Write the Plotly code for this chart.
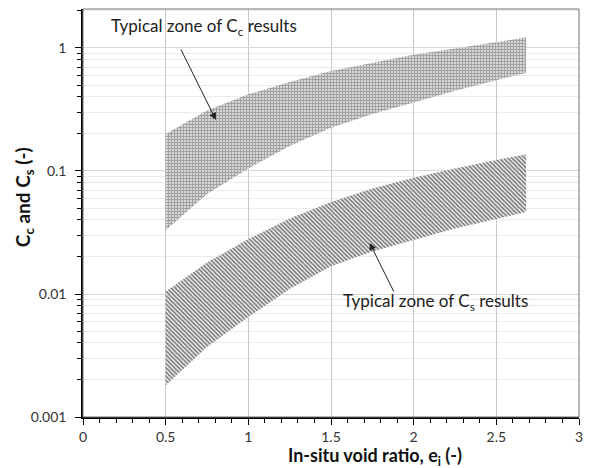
import plotly.graph_objects as go

# In-situ void ratio values where band edges were read
e_vals = [0.5, 0.75, 1.0, 1.25, 1.5, 1.75, 2.0, 2.25, 2.5, 2.68]
cc_upper = [0.20, 0.31, 0.42, 0.53, 0.65, 0.76, 0.88, 0.99, 1.11, 1.22]
cc_lower = [0.033, 0.065, 0.105, 0.16, 0.225, 0.29, 0.36, 0.45, 0.55, 0.63]
cs_upper = [0.0105, 0.018, 0.028, 0.041, 0.056, 0.072, 0.088, 0.105, 0.123, 0.137]
cs_lower = [0.0018, 0.0037, 0.0065, 0.0110, 0.0168, 0.0222, 0.0275, 0.034, 0.041, 0.0465]

x_ticks = [0, 0.5, 1, 1.5, 2, 2.5, 3]
x_tick_text = ["0", "0.5", "1", "1.5", "2", "2.5", "3"]
y_ticks = [0.001, 0.01, 0.1, 1]
y_tick_text = ["0.001", "0.01", "0.1", "1"]
y_minor = [k * d for d in [0.001, 0.01, 0.1, 1] for k in range(2, 10) if k * d <= 2.07]

FONT = "Lato, 'Open Sans', sans-serif"

fig = go.Figure()

fig.add_trace(go.Scatter(
    x=e_vals + e_vals[::-1],
    y=cc_upper + cc_lower[::-1],
    fill="toself", mode="lines", line=dict(width=0, color="rgba(0,0,0,0)"),
    fillcolor="rgba(0,0,0,0)",
    fillpattern=dict(shape="+", size=3, solidity=0.75, fgcolor="#454545", bgcolor="#ffffff"),
    hoverinfo="skip", showlegend=False,
))
fig.add_trace(go.Scatter(
    x=e_vals + e_vals[::-1],
    y=cs_upper + cs_lower[::-1],
    fill="toself", mode="lines", line=dict(width=0, color="rgba(0,0,0,0)"),
    fillcolor="rgba(0,0,0,0)",
    fillpattern=dict(shape="\\", size=3, solidity=0.6, fgcolor="#000000", bgcolor="#ffffff"),
    hoverinfo="skip", showlegend=False,
))

fig.update_xaxes(
    range=[0, 3], tickvals=x_ticks, ticktext=x_tick_text,
    showgrid=True, gridcolor="#c8c8c8", gridwidth=1,
    showline=True, linecolor="black", linewidth=1.5,
    ticks="outside", ticklen=6, tickcolor="black",
    minor=dict(tickmode="array", tickvals=[round(i * 0.1, 1) for i in range(31)],
               ticks="outside", ticklen=4, tickcolor="black", showgrid=False),
    tickfont=dict(family=FONT, size=14, color="#333333"),
    zeroline=False,
)
fig.update_yaxes(
    type="log", range=[-3, 0.317], tickvals=y_ticks, ticktext=y_tick_text,
    showgrid=True, gridcolor="#d8d8d8", gridwidth=1,
    showline=True, linecolor="black", linewidth=1.5,
    ticks="outside", ticklen=6, tickcolor="black",
    minor=dict(tickmode="array", tickvals=y_minor, ticks="outside", ticklen=4,
               tickcolor="black", showgrid=True, gridcolor="#ebebeb"),
    tickfont=dict(family=FONT, size=14, color="#333333"),
    ticklabelstandoff=6,
    zeroline=False,
)

annos = [
    dict(x=0.804, y=-0.585, ax=0.588, ay=0.0, xref="x", yref="y", axref="x", ayref="y",
         text="", showarrow=True, arrowhead=2, arrowsize=1.4, arrowwidth=1, arrowcolor="#222222"),
    dict(x=0.732, y=0.171, xref="x", yref="y", text="Typical zone of C<sub>c</sub> results",
         showarrow=False, font=dict(family=FONT, size=17, color="#222222")),
    dict(x=1.734, y=-1.585, ax=1.884, ay=-1.992, xref="x", yref="y", axref="x", ayref="y",
         text="", showarrow=True, arrowhead=2, arrowsize=1.4, arrowwidth=1, arrowcolor="#222222"),
    dict(x=2.13, y=-2.065, xref="x", yref="y", text="Typical zone of C<sub>s</sub> results",
         showarrow=False, font=dict(family=FONT, size=17, color="#222222")),
    dict(x=0.588, y=-0.098, xref="paper", yref="paper", xanchor="center", yanchor="middle",
         text="<b>In-situ void ratio, e<sub>i</sub> (-)</b>", showarrow=False,
         font=dict(family=FONT, size=18, color="#111111")),
    dict(x=-0.12, y=0.54, xref="paper", yref="paper", xanchor="center", yanchor="middle",
         text="<b>C<sub>c</sub> and C<sub>s</sub> (-)</b>", textangle=-90, showarrow=False,
         font=dict(family=FONT, size=19, color="#111111")),
]

fig.update_layout(
    width=590, height=468,
    margin=dict(l=83, r=7, t=9, b=51),
    plot_bgcolor="white", paper_bgcolor="white",
    annotations=annos,
    shapes=[dict(type="rect", xref="paper", yref="paper", x0=0, x1=1, y0=0, y1=1,
                 line=dict(color="#707070", width=1), layer="above")],
)

fig.write_html("out.html")
